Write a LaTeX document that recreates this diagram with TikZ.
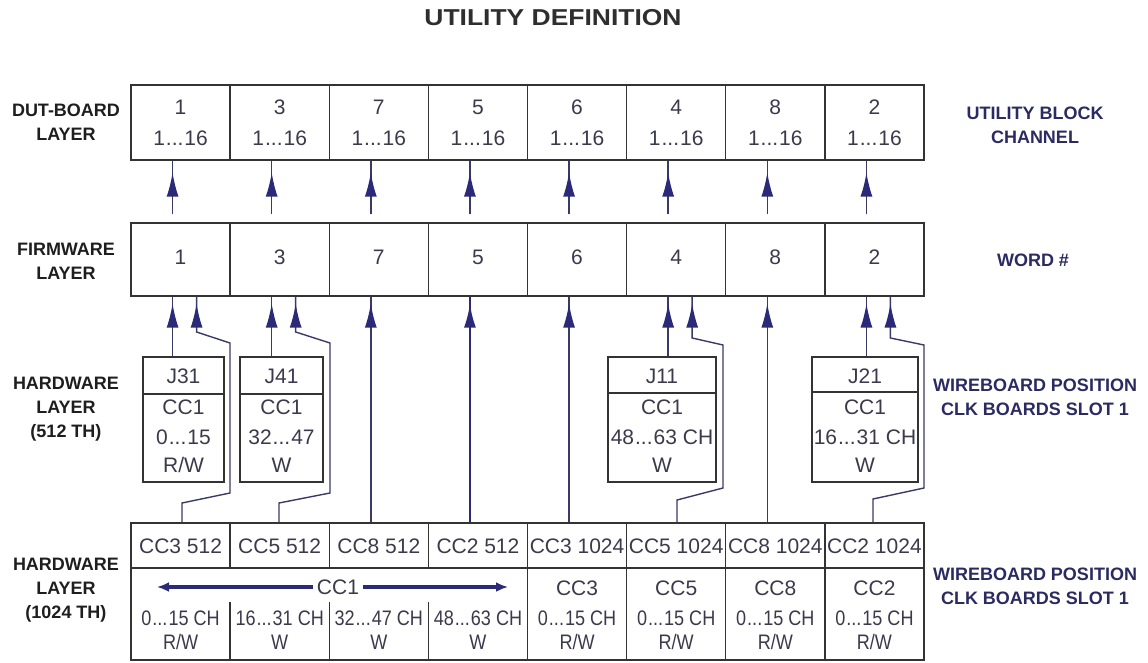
\documentclass[tikz,border=0pt]{standalone}
\usepackage{fontspec}
\setmainfont{Liberation Sans}
\newfontfamily\narrowf[FakeStretch=0.86]{Liberation Sans}
\newfontfamily\titlef[FakeStretch=1.15]{Liberation Sans}
\usetikzlibrary{arrows.meta,decorations.markings,calc}
\newcommand\mydots{\kern1pt...\kern1pt}
\definecolor{navy}{HTML}{2A2A78}
\definecolor{lbl}{HTML}{1E1E1E}
\definecolor{rlbl}{HTML}{2B2B62}
\definecolor{txt}{HTML}{3A3A4C}
\definecolor{edge}{HTML}{333333}
\definecolor{wirec}{HTML}{3A3A66}
\tikzset{
  cellbox/.style={draw=edge, line width=1.3pt, inner sep=0pt, minimum width=99.125pt},
  num/.style={text=txt, font=\fontsize{21}{24}\selectfont, inner sep=0pt},
  ntxt/.style={text=txt, font=\narrowf\fontsize{21}{24}\selectfont, inner sep=0pt},
  llabel/.style={text=lbl, font=\bfseries\fontsize{18}{24}\selectfont, align=center, inner sep=0pt},
  rlabel/.style={text=rlbl, font=\bfseries\fontsize{18}{24}\selectfont, align=center, inner sep=0pt},
  wire/.style={draw=wirec, line width=1.4pt},
  divline/.style={draw=edge, line width=1.3pt},
  tipat/.style={decoration={markings, mark=at position #1 with {\arrow{Latex[length=24pt,width=12pt,color=navy]}}}, postaction={decorate}},
  tipat/.default=-7pt,
  ccarrow/.style={draw=navy, line width=3.4pt, -{Latex[length=12pt,width=10pt]}}
}
\begin{document}
\begin{tikzpicture}[x=1pt,y=-1pt]
\useasboundingbox (0,0) rectangle (1148,662);
\node[font=\titlef\bfseries\fontsize{23}{26}\selectfont, text=black!82, inner sep=0pt] (title) at (553,18) {UTILITY DEFINITION};

% top two rows
\foreach \n [count=\i] in {1,3,7,5,6,4,8,2} {
  \pgfmathsetmacro\cx{131+(\i-0.5)*99.125}
  \node[cellbox, minimum height=75pt] (d\i) at (\cx,122.5) {};
  \node[num] (dn\i) at (\cx,107) {\n};
  \node[num] (dr\i) at (\cx,138) {1\mydots16};
  \node[cellbox, minimum height=73pt] (f\i) at (\cx,259.5) {};
  \node[num] (fn\i) at (\cx,257) {\n};
  \draw[wire, tipat=-12pt] ([xshift=-8pt,yshift=8pt]f\i.north) -- ([xshift=-8pt]d\i.south);
  \coordinate (fa\i) at ([xshift=-8pt]f\i.south);
  \coordinate (fb\i) at ([xshift=16pt]f\i.south);
}

% bottom row, upper part
\foreach \t [count=\i] in {CC3 512,CC5 512,CC8 512,CC2 512,CC3 1024,CC5 1024,CC8 1024,CC2 1024} {
  \pgfmathsetmacro\cx{131+(\i-0.5)*99.125}
  \node[cellbox, minimum height=45pt] (b\i) at (\cx,545.5) {};
  \node[num] (bt\i) at (\cx,546) {\t};
  \coordinate (ba\i) at ([xshift=-8pt]b\i.north);
}

% bottom row, lower part: CC1 block
\node[cellbox, minimum width=396.5pt, minimum height=92pt] (cc1) at (329.25,614) {};
\draw[divline] (230.1,602) -- (230.1,660);
\draw[divline] (329.25,602) -- (329.25,660);
\draw[divline] (428.4,602) -- (428.4,660);
\node[num, fill=white, inner xsep=4pt] (cc1t) at (338,587) {CC1};
\coordinate (ccl) at (157,587);
\coordinate (ccr) at (508,587);
\draw[ccarrow] (cc1t.west) -- (ccl);
\draw[ccarrow] (cc1t.east) -- (ccr);
\foreach \a/\b [count=\i] in {0\mydots15 CH/R\slash W,16\mydots31 CH/W,32\mydots47 CH/W,48\mydots63 CH/W} {
  \pgfmathsetmacro\cx{131+(\i-0.5)*99.125}
  \node[ntxt] (la\i) at (\cx,618) {\a};
  \node[ntxt] (lb\i) at (\cx,642) {\b};
}
\foreach \c [count=\j from 5] in {CC3,CC5,CC8,CC2} {
  \pgfmathsetmacro\cx{131+(\j-0.5)*99.125}
  \node[cellbox, minimum height=92pt] (l\j) at (\cx,614) {};
  \node[num] (lc\j) at (\cx,588) {\c};
  \node[ntxt] (la\j) at (\cx,618) {0\mydots15 CH};
  \node[ntxt] (lb\j) at (\cx,642) {R/W};
}

% J boxes
\node[cellbox, minimum width=81pt, minimum height=125pt] (j1) at (183.5,419.5) {};
\node[cellbox, minimum width=83pt, minimum height=125pt] (j2) at (281.5,419.5) {};
\node[cellbox, minimum width=108pt, minimum height=125pt] (j3) at (662,419.5) {};
\node[cellbox, minimum width=106pt, minimum height=125pt] (j4) at (865,419.5) {};
\draw[divline] (j1.west |- 0,394) -- (j1.east |- 0,394);
\draw[divline] (j2.west |- 0,394) -- (j2.east |- 0,394);
\draw[divline] (j3.west |- 0,393) -- (j3.east |- 0,393);
\draw[divline, line width=2pt] (j4.west |- 0,392) -- (j4.east |- 0,392);
\foreach \k/\xx/\ja/\jb/\jc/\jd in {1/183.5/J31/CC1/0\mydots15/R\slash W, 2/281.5/J41/CC1/32\mydots47/W, 3/662/J11/CC1/48\mydots63 CH/W, 4/865/J21/CC1/16\mydots31 CH/W} {
  \node[num] (jt\k) at (\xx,376) {\ja};
  \node[num] (jc\k) at (\xx,407) {\jb};
  \node[num] (jr\k) at (\xx,437) {\jc};
  \node[num] (jw\k) at (\xx,465) {\jd};
}

% connectors from hardware to firmware
\draw[wire, tipat] (ba3) -- (fa3);
\draw[wire, tipat, line width=2.6pt, draw=navy] (ba4) -- (fa4);
\draw[wire, tipat] (ba5) -- (fa5);
\draw[wire, tipat] (ba7) -- (fa7);
\draw[wire, tipat] (j1.north -| fa1) -- (fa1);
\draw[wire, tipat] (j2.north -| fa2) -- (fa2);
\draw[wire, tipat] (j3.north -| fa6) -- (fa6);
\draw[wire, tipat] (j4.north -| fa8) -- (fa8);
\draw[wire, tipat] (b1.north -| 182,0) -- (182,503) -- (230,493) -- (230,343) -- (fb1 |- 0,332) -- (fb1);
\draw[wire, tipat] (b2.north -| 279,0) -- (279,503) -- (330,493) -- (330,343) -- (fb2 |- 0,332) -- (fb2);
\draw[wire, tipat] (b6.north -| 677,0) -- (677,500) -- (723,488) -- (723,345) -- (fb6 |- 0,338) -- (fb6);
\draw[wire, tipat] (b8.north -| 873,0) -- (873,499) -- (924,488) -- (924,345) -- (fb8 |- 0,338) -- (fb8);

% side labels
\node[llabel] (L1) at (66,122) {DUT-BOARD\\LAYER};
\node[llabel] (L2) at (66,261) {FIRMWARE\\LAYER};
\node[llabel] (L3) at (66,409) {HARDWARE\\LAYER\\(512 TH)};
\node[llabel] (L4) at (66,590) {HARDWARE\\LAYER\\(1024 TH)};
\node[rlabel] (R1) at (1035,125) {UTILITY BLOCK\\CHANNEL};
\node[rlabel] (R2) at (1033,260) {WORD \#};
\node[rlabel] (R3) at (1035,397) {WIREBOARD POSITION\\CLK BOARDS SLOT 1};
\node[rlabel] (R4) at (1035,586) {WIREBOARD POSITION\\CLK BOARDS SLOT 1};
\end{tikzpicture}
\end{document}
